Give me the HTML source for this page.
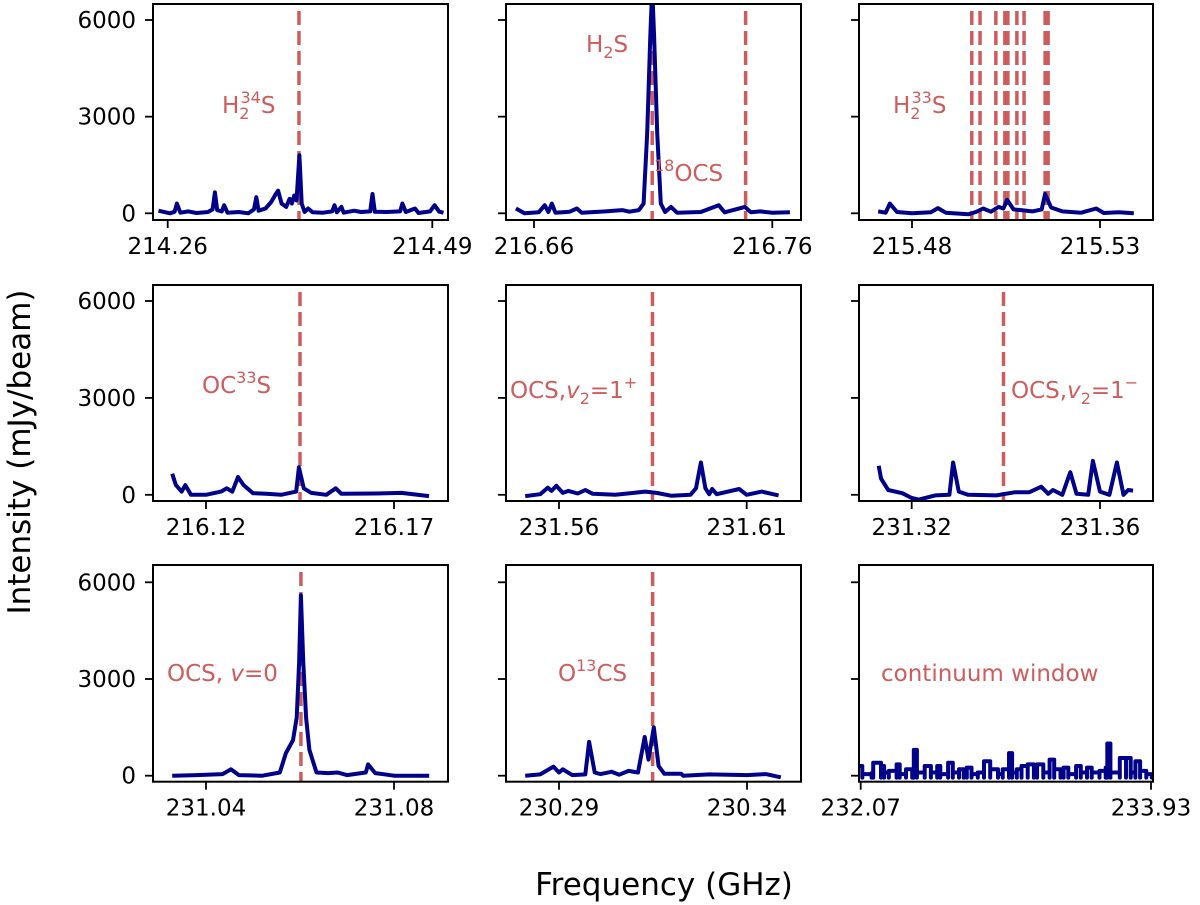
<!DOCTYPE html>
<html><head><meta charset="utf-8"><style>body{margin:0;background:#fff}svg{display:block}text{font-family:"DejaVu Sans","Liberation Sans",sans-serif}</style></head>
<body>
<svg id="fig" width="1200" height="905" viewBox="0 0 1200 905" xmlns="http://www.w3.org/2000/svg">
<text x="664" y="895" font-size="31" text-anchor="middle">Frequency (GHz)</text>
<text transform="translate(30,452) rotate(-90)" font-size="31" text-anchor="middle">Intensity (mJy/beam)</text>
</svg>
<script>
const yTickValues=[0,3000,6000];
const yTickLabels=['0','3000','6000'];
const p1Spec=[[214.252,80],[214.262,0],[214.266,50],[214.268,300],[214.271,20],[214.278,60],[214.285,10],[214.295,40],[214.299,120],[214.301,650],[214.303,100],[214.307,60],[214.309,250],[214.312,20],[214.322,40],[214.330,0],[214.335,120],[214.337,500],[214.339,80],[214.345,150],[214.350,350],[214.354,600],[214.356,700],[214.359,300],[214.363,200],[214.366,450],[214.368,300],[214.370,550],[214.372,400],[214.3745,1800],[214.3765,300],[214.379,40],[214.382,150],[214.386,30],[214.395,20],[214.403,60],[214.405,250],[214.407,30],[214.411,200],[214.413,20],[214.422,80],[214.428,40],[214.436,60],[214.438,600],[214.440,50],[214.450,40],[214.462,60],[214.464,300],[214.467,40],[214.475,150],[214.478,10],[214.488,60],[214.492,250],[214.496,50],[214.4997,20]];
const p2Spec=[[216.6524,150],[216.656,0],[216.662,30],[216.6645,250],[216.666,40],[216.6675,300],[216.669,20],[216.675,50],[216.678,150],[216.680,20],[216.69,60],[216.697,100],[216.700,50],[216.704,100],[216.706,300],[216.7075,2500],[216.7088,5500],[216.7096,7000],[216.7104,5500],[216.7117,2500],[216.7132,300],[216.715,40],[216.7175,200],[216.720,20],[216.73,40],[216.7375,250],[216.740,30],[216.7485,200],[216.751,30],[216.755,60],[216.76,20],[216.7674,30]];
const p3Spec=[[215.471,60],[215.473,20],[215.4741,300],[215.476,40],[215.480,0],[215.485,30],[215.4869,160],[215.489,20],[215.495,-30],[215.497,40],[215.4989,150],[215.501,50],[215.503,200],[215.5043,150],[215.5053,420],[215.507,120],[215.509,100],[215.512,60],[215.5145,120],[215.5154,600],[215.517,180],[215.520,60],[215.525,20],[215.529,150],[215.531,10],[215.535,30],[215.539,0]];
const p4Spec=[[216.111,650],[216.112,300],[216.1135,100],[216.1145,300],[216.116,0],[216.120,0],[216.124,100],[216.1255,200],[216.127,100],[216.1285,550],[216.130,300],[216.1325,50],[216.136,30],[216.140,0],[216.144,100],[216.1447,850],[216.146,200],[216.148,60],[216.152,0],[216.1545,200],[216.156,30],[216.165,40],[216.172,60],[216.1793,-40]];
const p5Spec=[[231.551,-40],[231.555,20],[231.557,220],[231.558,120],[231.5593,280],[231.561,60],[231.5625,120],[231.565,40],[231.567,150],[231.569,30],[231.575,0],[231.583,100],[231.586,60],[231.590,-30],[231.595,0],[231.5965,200],[231.5978,1000],[231.599,200],[231.600,20],[231.6008,180],[231.602,20],[231.608,180],[231.610,0],[231.614,100],[231.6185,-20]];
const p6Spec=[[231.313,900],[231.3135,500],[231.315,150],[231.318,50],[231.320,-100],[231.3215,-150],[231.325,-20],[231.328,0],[231.3288,1000],[231.330,100],[231.332,0],[231.338,-20],[231.342,80],[231.345,80],[231.3475,250],[231.349,30],[231.350,150],[231.352,0],[231.3537,700],[231.355,30],[231.3575,0],[231.3585,1050],[231.360,100],[231.362,0],[231.3636,1000],[231.365,0],[231.366,150],[231.367,130]];
const p7Spec=[[231.0328,0],[231.038,20],[231.0435,50],[231.0453,200],[231.047,20],[231.052,0],[231.0557,100],[231.057,700],[231.0585,1100],[231.0593,1800],[231.0598,3500],[231.0602,5600],[231.0607,3500],[231.0613,1800],[231.062,800],[231.0635,100],[231.066,80],[231.068,100],[231.070,20],[231.074,100],[231.0745,350],[231.076,80],[231.080,0],[231.0875,0]];
const p8Spec=[[230.281,0],[230.285,40],[230.2885,280],[230.290,100],[230.291,200],[230.2935,20],[230.297,40],[230.298,1050],[230.2995,100],[230.301,50],[230.304,120],[230.306,30],[230.3085,150],[230.311,100],[230.3128,1200],[230.3138,500],[230.3152,1500],[230.3165,300],[230.318,60],[230.3225,60],[230.323,0],[230.330,40],[230.340,20],[230.345,50],[230.349,-50]];
const p9Spec=[[232.06,300],[232.08,50],[232.14,80],[232.15,400],[232.20,300],[232.22,100],[232.25,150],[232.30,350],[232.32,50],[232.36,200],[232.40,100],[232.41,800],[232.43,100],[232.48,300],[232.52,100],[232.56,300],[232.58,50],[232.63,400],[232.66,100],[232.70,200],[232.73,50],[232.75,250],[232.78,50],[232.82,100],[232.86,450],[232.90,200],[232.95,50],[232.98,200],[233.02,700],[233.04,100],[233.07,200],[233.10,300],[233.14,350],[233.18,100],[233.20,350],[233.24,100],[233.28,500],[233.31,200],[233.35,100],[233.37,250],[233.40,50],[233.45,300],[233.48,100],[233.52,250],[233.55,100],[233.60,150],[233.64,250],[233.65,1000],[233.67,100],[233.73,550],[233.77,550],[233.80,100],[233.83,450],[233.86,150],[233.90,50],[233.935,100]];
const p1Lines=[214.3741];
const p2Lines=[216.7096,216.7488];
const p3Lines=[215.4959,215.4981,215.5023,215.5047,215.5055,215.5079,215.5098,215.5154,215.5162];
const p4Lines=[216.145];
const p5Lines=[231.5849];
const p6Lines=[231.3395];
const p7Lines=[231.0602];
const p8Lines=[230.3149];
const p9Lines=[];
const xTicks=[[214.26,214.49],[216.66,216.76],[215.48,215.53],[216.12,216.17],[231.56,231.61],[231.32,231.36],[231.04,231.08],[230.29,230.34],[232.07,233.93]];
const xTickLabels=[['214.26','214.49'],['216.66','216.76'],['215.48','215.53'],['216.12','216.17'],['231.56','231.61'],['231.32','231.36'],['231.04','231.08'],['230.29','230.34'],['232.07','233.93']];
const specs=[p1Spec,p2Spec,p3Spec,p4Spec,p5Spec,p6Spec,p7Spec,p8Spec,p9Spec];
const lines=[p1Lines,p2Lines,p3Lines,p4Lines,p5Lines,p6Lines,p7Lines,p8Lines,p9Lines];

const NS='http://www.w3.org/2000/svg';
const svg=document.getElementById('fig');
const cols=[{l:153,r:448},{l:506,r:801},{l:859,r:1153}];
const rows=[{t:4,b:220,y0:213.3,y6:20},{t:285,b:501,y0:494.8,y6:301},{t:565,b:781.7,y0:775.7,y6:582.3}];
const tickPx=[[167.7,432.3],[534,772.3],[912,1100],[206,394],[559,746.7],[911.7,1100],[206,394],[559,747],[860.7,1151]];
const labelDefs=[
 [{x:222,y:113,parts:[['H',''],['2','sub'],['34','sup'],['S','']]}],
 [{x:586,y:52,parts:[['H',''],['2','sub'],['S','']]},{x:654,y:181,parts:[['18','sup'],['OCS','']]}],
 [{x:893,y:113,parts:[['H',''],['2','sub'],['33','sup'],['S','']]}],
 [{x:202,y:393,parts:[['OC',''],['33','sup'],['S','']]}],
 [{x:510,y:398,parts:[['OCS,',''],['v','it'],['2','sub'],['=1',''],['+','sup']]}],
 [{x:1011,y:398,parts:[['OCS,',''],['v','it'],['2','sub'],['=1',''],['−','sup']]}],
 [{x:167,y:681,parts:[['OCS, ',''],['v','it'],['=0','']]}],
 [{x:558,y:681,parts:[['O',''],['13','sup'],['CS','']]}],
 [{x:881,y:681,parts:[['continuum window','']]}]
];
function el(tag,attrs,parent){const e=document.createElementNS(NS,tag);for(const k in attrs)e.setAttribute(k,attrs[k]);(parent||svg).appendChild(e);return e;}
const defs=el('defs',{});
for(let i=0;i<9;i++){
  const c=cols[i%3],r=rows[Math.floor(i/3)];
  const cp=el('clipPath',{id:'clip'+i},defs);el('rect',{x:c.l,y:r.t,width:c.r-c.l,height:r.b-r.t},cp);
  const g=el('g',{});
  
  
  const [f0,f1]=xTicks[i],[p0,p1]=tickPx[i];
  const X=f=>p0+(f-f0)*(p1-p0)/(f1-f0);
  const Y=v=>r.y0+(v)*(r.y6-r.y0)/6000;
  lines[i].forEach((f,k)=>{const ln=el('line',{x1:X(f),x2:X(f),y1:r.t+7,y2:r.b,stroke:'#cd5c5c',"stroke-width":3.5,"stroke-dasharray":'14,6'},g);
    
    });
  let d;
  if(i===8){
    d=specs[i].map((p,k)=>{const x=X(p[0]).toFixed(1),y=Y(p[1]).toFixed(1);
      if(k===0)return 'M'+x+','+y;const px=X(specs[i][k-1][0]).toFixed(1);
      return 'L'+x+','+Y(specs[i][k-1][1]).toFixed(1)+'L'+x+','+Y(-60).toFixed(1)+'L'+x+','+y;}).join('');
  } else {
    d=specs[i].map((p,k)=>(k?'L':'M')+X(p[0]).toFixed(1)+','+Y(p[1]).toFixed(1)).join('');
  }
  const path=el('path',{d:d,fill:'none',stroke:'#00008b',"stroke-width":4,"stroke-linejoin":'round',"clip-path":'url(#clip'+i+')'},g);
  
  
  const fr=el('rect',{x:c.l,y:r.t,width:c.r-c.l,height:r.b-r.t,fill:'none',stroke:'#000',"stroke-width":2},g);
  
  
  yTickValues.forEach((v,k)=>{el('line',{x1:c.l-8,x2:c.l,y1:Y(v),y2:Y(v),stroke:'#000',"stroke-width":1.8},g);
    if(i%3===0){const t=el('text',{x:c.l-17,y:Y(v)+8,"font-size":23,"text-anchor":'end'},g);t.textContent=yTickLabels[k];
      
      }});
  xTicks[i].forEach((f,k)=>{el('line',{x1:X(f),x2:X(f),y1:r.b,y2:r.b+8,stroke:'#000',"stroke-width":1.8},g);
    const t=el('text',{x:X(f),y:r.b+34,"font-size":23,"text-anchor":'middle'},g);t.textContent=xTickLabels[i][k];
    
    });
  labelDefs[i].forEach(L=>{const t=el('text',{x:L.x,y:L.y,"font-size":23,fill:'#cd5c5c'},g);
    
    
    L.parts.forEach(([s,m],k)=>{const ts=el('tspan',{},t);ts.textContent=s;
      const prev=L.parts[k-1];
      if(m==='sub'){ts.setAttribute('font-size',16);ts.setAttribute('dy',6);}
      else if(m==='sup'){ts.setAttribute('font-size',16);
        if(prev&&prev[1]==='sub'){ts.setAttribute('dy',-16);ts.setAttribute('dx',-9);}else ts.setAttribute('dy',-10);}
      else {if(m==='it')ts.setAttribute('font-style','italic');
        if(prev&&prev[1]==='sub')ts.setAttribute('dy',-6);
        if(prev&&prev[1]==='sup')ts.setAttribute('dy',10);}
    });});
}
</script>
</body></html>
